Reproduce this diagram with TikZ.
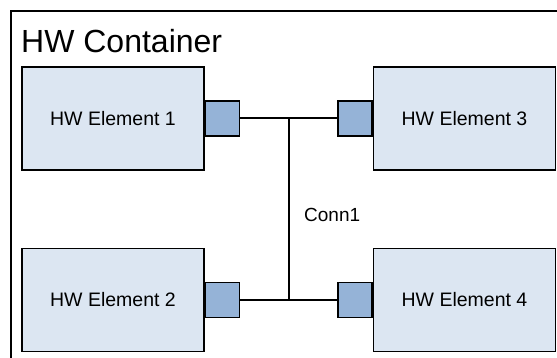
\documentclass[tikz,border=0pt]{standalone}
\usepackage{fontspec}
\setmainfont{Liberation Sans}
\usetikzlibrary{positioning}
\definecolor{elemfill}{HTML}{DCE6F2}
\definecolor{portfill}{HTML}{95B3D7}

\begin{document}
\begin{tikzpicture}[x=1pt,y=-1pt,
  hwelem/.style={draw,line width=1.6pt,fill=elemfill,minimum width=182pt,minimum height=103pt,inner sep=0pt,font=\fontsize{19.5}{22}\selectfont},
  hwport/.style={draw,line width=1.6pt,fill=portfill,minimum width=34pt,minimum height=35pt,inner sep=0pt}]
\useasboundingbox (0,0) rectangle (557,358);
\clip (0,0) rectangle (557,358);
\draw [line width=1.6pt] (11,11) rectangle (590,390);
\node (title) at (21,53) [anchor=base west,inner sep=0pt,font=\fontsize{32}{36}\selectfont] {HW Container};
  \node (e1) at (113,118.5) [hwelem] {HW Element 1};
  \node (e2) at (113,300) [hwelem] {HW Element 2};
  \node (e3) at (464.5,118.5) [hwelem] {HW Element 3};
  \node (e4) at (464.5,300) [hwelem] {HW Element 4};
  \node (p1) [hwport,right=0pt of e1] {};
  \node (p2) [hwport,right=0pt of e2] {};
  \node (p3) [hwport,left=0pt of e3] {};
  \node (p4) [hwport,left=0pt of e4] {};
  \coordinate (jt) at (289,118);
  \coordinate (jb) at (289,300);
  \draw [line width=1.6pt] (p1.east |- jt) -- (jt) -- (p3.west |- jt);
  \draw [line width=1.6pt] (p2) -- (jb) -- (p4);
  \draw [line width=1.6pt] (jt) -- (jb);
\node (conn) at (304,222) [anchor=base west,inner sep=0pt,font=\fontsize{19}{22}\selectfont] {Conn1};
\end{tikzpicture}
\end{document}
